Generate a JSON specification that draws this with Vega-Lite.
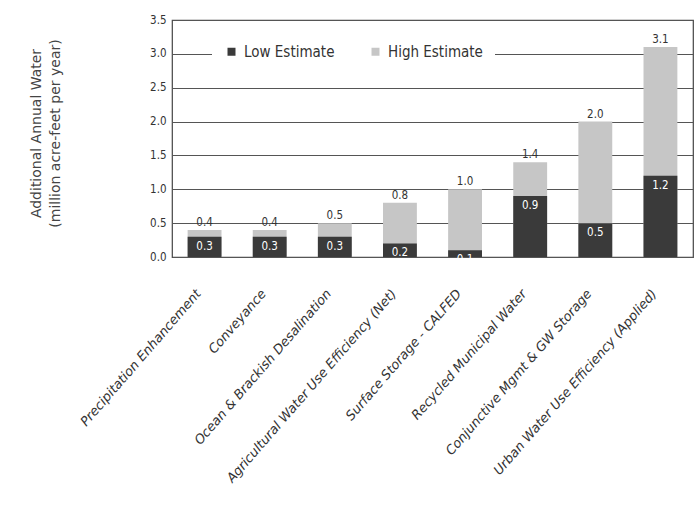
{
  "$schema": "https://vega.github.io/schema/vega-lite/v6.json",
  "width": 521,
  "height": 237,
  "autosize": {"type": "none"},
  "padding": {"left": 172, "top": 20, "right": 3, "bottom": 249},
  "background": "white",
  "config": {
    "font": "DejaVu Sans Condensed, Liberation Sans, sans-serif",
    "view": {"stroke": "#444", "strokeWidth": 1.2},
    "axisY": {
      "format": ".1f",
      "titleFont": "DejaVu Sans",
      "titleFontSize": 14,
      "titleFontWeight": "normal",
      "titleColor": "#444",
      "labelFontSize": 11.5,
      "labelColor": "#333",
      "labelPadding": 6,
      "labelOverlap": false,
      "ticks": false,
      "domain": false,
      "gridColor": "#555",
      "gridWidth": 1.2
    }
  },
  "data": {
    "values": [
      {"category": "Precipitation Enhancement", "Low Estimate": 0.3, "High Estimate": 0.4},
      {"category": "Conveyance", "Low Estimate": 0.3, "High Estimate": 0.4},
      {"category": "Ocean & Brackish Desalination", "Low Estimate": 0.3, "High Estimate": 0.5},
      {"category": "Agricultural Water Use Efficiency (Net)", "Low Estimate": 0.2, "High Estimate": 0.8},
      {"category": "Surface Storage - CALFED", "Low Estimate": 0.1, "High Estimate": 1.0},
      {"category": "Recycled Municipal Water", "Low Estimate": 0.9, "High Estimate": 1.4},
      {"category": "Conjunctive Mgmt & GW Storage", "Low Estimate": 0.5, "High Estimate": 2.0},
      {"category": "Urban Water Use Efficiency (Applied)", "Low Estimate": 1.2, "High Estimate": 3.1}
    ]
  },
  "encoding": {
    "x": {
      "field": "category",
      "type": "nominal",
      "sort": null,
      "scale": {"paddingInner": 0.48, "paddingOuter": 0.24},
      "axis": {
        "title": null,
        "labelAngle": -49,
        "labelAlign": "right",
        "labelBaseline": "middle",
        "labelPadding": 34,
        "labelOffset": -6,
        "labelFont": "DejaVu Sans",
        "labelFontSize": 13,
        "labelFontStyle": "italic",
        "labelColor": "#333",
        "labelLimit": 400,
        "ticks": false,
        "domain": false
      }
    }
  },
  "layer": [
    {
      "transform": [{"fold": ["High Estimate", "Low Estimate"], "as": ["series", "value"]}],
      "mark": {"type": "bar"},
      "encoding": {
        "y": {
          "field": "value",
          "type": "quantitative",
          "stack": null,
          "scale": {"domain": [0, 3.5], "nice": false},
          "axis": {
            "values": [0, 0.5, 1, 1.5, 2, 2.5, 3, 3.5],
            "title": ["Additional Annual Water", "(million acre-feet per year)"],
            "titleAngle": -90,
            "titleAlign": "center",
            "titleBaseline": "top",
            "titleLineHeight": 19,
            "titleX": -143,
            "titleY": 113
          }
        },
        "color": {
          "field": "series",
          "type": "nominal",
          "scale": {"domain": ["Low Estimate", "High Estimate"], "range": ["#3a3a3a", "#c6c6c6"]},
          "legend": {
            "title": null,
            "orient": "none",
            "direction": "horizontal",
            "legendX": 40,
            "legendY": 12,
            "fillColor": "white",
            "padding": 12,
            "symbolType": "square",
            "symbolSize": 64,
            "symbolStrokeWidth": 0,
            "labelFontSize": 15,
            "labelColor": "#333",
            "columnPadding": 33,
            "labelOffset": 5
          }
        },
        "order": {"field": "series", "sort": "ascending"}
      }
    },
    {
      "mark": {"type": "text", "baseline": "middle", "dy": 10, "color": "white", "fontSize": 11.5},
      "encoding": {
        "y": {"field": "Low Estimate", "type": "quantitative", "axis": {"values": [0, 0.5, 1, 1.5, 2, 2.5, 3, 3.5], "title": ["Additional Annual Water", "(million acre-feet per year)"]}},
        "text": {"field": "Low Estimate", "type": "quantitative", "format": ".1f"}
      }
    },
    {
      "mark": {"type": "text", "baseline": "bottom", "dy": -2, "color": "#333", "fontSize": 11.5},
      "encoding": {
        "y": {"field": "High Estimate", "type": "quantitative", "axis": {"values": [0, 0.5, 1, 1.5, 2, 2.5, 3, 3.5], "title": ["Additional Annual Water", "(million acre-feet per year)"]}},
        "text": {"field": "High Estimate", "type": "quantitative", "format": ".1f"}
      }
    }
  ]
}
